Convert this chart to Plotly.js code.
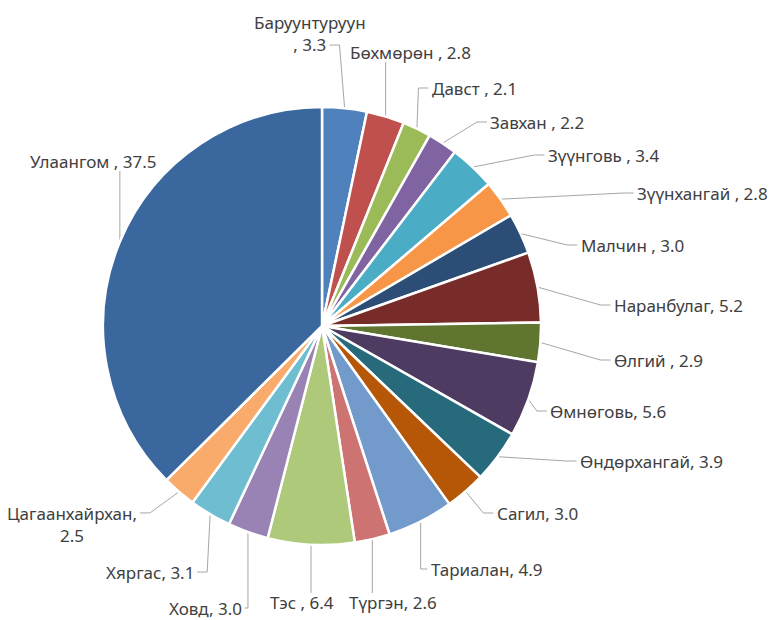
<!DOCTYPE html>
<html>
<head>
<meta charset="utf-8">
<script src="https://cdn.plot.ly/plotly-3.0.1.min.js"></script>
<style>html,body{margin:0;padding:0;background:#fff;}#chart{width:771px;height:620px;}</style>
</head>
<body>
<div id="chart"></div>
<script>
// ---- data ----
const categories = ["Баруунтуруун ", "Бөхмөрөн ", "Давст ", "Завхан ", "Зүүнговь ", "Зүүнхангай ",
  "Малчин ", "Наранбулаг", "Өлгий ", "Өмнөговь", "Өндөрхангай", "Сагил", "Тариалан", "Түргэн",
  "Тэс ", "Ховд", "Хяргас", "Цагаанхайрхан", "Улаангом "];
const values = [3.3, 2.8, 2.1, 2.2, 3.4, 2.8, 3.0, 5.2, 2.9, 5.6, 3.9, 3.0, 4.9, 2.6, 6.4, 3.0, 3.1, 2.5, 37.5];

// ---- style / layout ----
const colors = ["#4F81BD", "#C0504D", "#9BBB59", "#8064A2", "#4BACC6", "#F79646",
  "#2C4D75", "#772C2A", "#5F7530", "#4D3B62", "#276A7C", "#B65708",
  "#729ACA", "#CD7371", "#AFC97A", "#9983B5", "#6FBDD1", "#F9AB6B", "#3A679E"];
// label text centres (pixels) and wrapping
const labelPos = [[310, 34], [410, 53], [474, 88], [537, 122], [603, 155], [702, 193],
  [632, 245], [678, 305], [658, 360], [608, 411], [651, 461], [537, 513], [486, 569],
  [393, 602], [302, 602], [205, 608], [150, 572], [72, 524], [93, 162]];
const wrapAt = {0: true, 17: true};

const FONT_FAMILY = "Noto Sans";
const FONT_SIZE = 17;
const LINE_COLOR = "#a6a6a6";

const W = 771, H = 620;
const cxPx = 322, cyPx = 326, rPx = 219;
const domX = [(cxPx - rPx) / W, (cxPx + rPx) / W];
const domY = [1 - (cyPx + rPx) / H, 1 - (cyPx - rPx) / H];

const ctx = document.createElement("canvas").getContext("2d");
ctx.font = FONT_SIZE + "px '" + FONT_SIZE_FIX() + "'";
function FONT_SIZE_FIX() { return FONT_FAMILY; }

const total = values.reduce((a, b) => a + b, 0);
let cum = 0;
const annotations = [];
const shapes = [];
const toX = p => p / W, toY = p => 1 - p / H;

values.forEach((v, i) => {
  const mid = (cum + v / 2) / total * 2 * Math.PI;
  cum += v;
  const px = cxPx + rPx * Math.sin(mid);
  const py = cyPx - rPx * Math.cos(mid);
  const valTxt = v.toFixed(1);
  let lines;
  if (wrapAt[i]) {
    lines = categories[i].endsWith(" ")
      ? [categories[i].trim(), ", " + valTxt]
      : [categories[i] + ",", valTxt];
  } else {
    lines = [categories[i] + ", " + valTxt];
  }
  const [tx, ty] = labelPos[i];
  annotations.push({
    xref: "paper", yref: "paper", x: toX(tx), y: toY(ty),
    xanchor: "center", yanchor: "middle",
    text: lines.join("<br>"), showarrow: false, align: "center",
    font: {family: FONT_FAMILY + ", Open Sans, sans-serif", size: FONT_SIZE, color: "#404040"}
  });

  // leader line geometry
  const lh = FONT_SIZE * 1.3;
  const n = lines.length;
  const boxTop = ty - n * lh / 2, boxBot = ty + n * lh / 2;
  const li = (ty < py) ? n - 1 : 0;           // line nearest to the slice
  const lineCy = ty + (li - (n - 1) / 2) * lh;
  const wLine = ctx.measureText(lines[li]).width;
  const left = tx - wLine / 2, right = tx + wLine / 2;
  const pad = 3;
  let path;
  if (px > right + pad) {
    const ex = right + pad;
    const elx = ex + Math.min(10, px - ex);
    path = `M ${toX(px)},${toY(py)} L ${toX(elx)},${toY(lineCy)} L ${toX(ex)},${toY(lineCy)}`;
  } else if (px < left - pad) {
    const ex = left - pad;
    const elx = ex - Math.min(10, ex - px);
    path = `M ${toX(px)},${toY(py)} L ${toX(elx)},${toY(lineCy)} L ${toX(ex)},${toY(lineCy)}`;
  } else {
    const ey = (ty < py) ? boxBot - 2 : boxTop + 2;
    path = `M ${toX(px)},${toY(py)} L ${toX(px)},${toY(ey)}`;
  }
  shapes.push({type: "path", xref: "paper", yref: "paper", path: path,
    line: {color: LINE_COLOR, width: 1}, layer: "below"});
});

const trace = {
  type: "pie",
  labels: categories,
  values: values,
  sort: false,
  direction: "clockwise",
  rotation: 0,
  marker: {colors: colors, line: {color: "#ffffff", width: 2.5}},
  textinfo: "none",
  hoverinfo: "label+value",
  domain: {x: domX, y: domY},
  showlegend: false
};

const layout = {
  width: W, height: H,
  margin: {l: 0, r: 0, t: 0, b: 0},
  paper_bgcolor: "#ffffff",
  showlegend: false,
  annotations: annotations,
  shapes: shapes
};

Plotly.newPlot("chart", [trace], layout, {displayModeBar: false, staticPlot: true});
</script>
</body>
</html>
